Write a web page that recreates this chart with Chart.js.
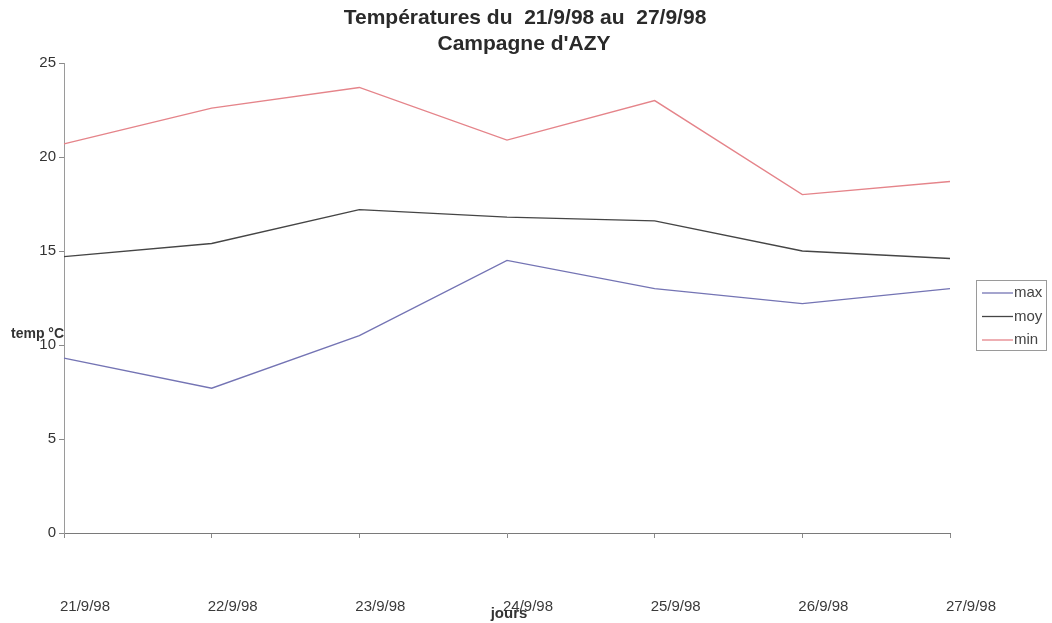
<!DOCTYPE html>
<html><head><meta charset="utf-8">
<script src="https://cdn.jsdelivr.net/npm/chart.js@4/dist/chart.umd.min.js"></script>
<style>html,body{margin:0;padding:0;background:#fff}#wrap{width:1052px;height:623px}</style>
</head><body><div id="wrap"><canvas id="c" width="1052" height="623"></canvas></div>
<script>
const categories = ["21/9/98","22/9/98","23/9/98","24/9/98","25/9/98","26/9/98","27/9/98"];
const seriesNames = ["max","moy","min"];
const maxValues = [9.3, 7.7, 10.5, 14.5, 13.0, 12.2, 13.0];
const moyValues = [14.7, 15.4, 17.2, 16.8, 16.6, 15.0, 14.6];
const minValues = [20.7, 22.6, 23.7, 20.9, 23.0, 18.0, 18.7];
const yTicks = [0, 5, 10, 15, 20, 25];
const titleLines = ["Températures du  21/9/98 au  27/9/98", "Campagne d'AZY"];
const xTitle = "jours";
const yTitle = "temp °C";

const colors = ["#7474b4", "#454545", "#e5848a"];
const FONT = "'Liberation Sans', Arial, sans-serif";

const overlay = {
  id: 'overlay',
  afterDraw(chart) {
    const ctx = chart.ctx;
    ctx.save();
    // title
    ctx.fillStyle = '#2a2a2a';
    ctx.font = "bold 21px " + FONT;
    ctx.textAlign = 'center';
    ctx.textBaseline = 'middle';
    ctx.fillText(titleLines[0], 525, 18);
    ctx.fillText(titleLines[1], 524, 44);
    // axis titles
    ctx.font = "bold 15px " + FONT;
    ctx.fillStyle = '#333';
    ctx.fillText(xTitle, 509, 614);
    ctx.font = "bold 14px " + FONT;
    ctx.textAlign = 'left';
    ctx.fillText(yTitle, 11, 334);
    // legend
    const lx = 976, ly = 280, lw = 70, lh = 70;
    ctx.strokeStyle = '#9a9a9a';
    ctx.lineWidth = 1;
    ctx.strokeRect(lx + 0.5, ly + 0.5, lw, lh);
    ctx.font = "15px " + FONT;
    chart.data.datasets.forEach((ds, i) => {
      const y = ly + 13 + i * 23.5;
      ctx.strokeStyle = ds.borderColor;
      ctx.lineWidth = 1.3;
      ctx.beginPath(); ctx.moveTo(lx + 6, y); ctx.lineTo(lx + 37, y); ctx.stroke();
      ctx.fillStyle = '#444';
      ctx.textAlign = 'left';
      ctx.fillText(ds.label, lx + 38, y);
    });
    ctx.restore();
  }
};

new Chart(document.getElementById('c'), {
  type: 'line',
  data: {
    labels: categories,
    datasets: [maxValues, moyValues, minValues].map((d, i) => ({
      label: seriesNames[i], data: d, borderColor: colors[i], backgroundColor: colors[i],
      borderWidth: 1.4, pointRadius: 0, tension: 0, fill: false
    }))
  },
  options: {
    responsive: false, animation: false, devicePixelRatio: 1,
    layout: { padding: { left: 0, right: 102, top: 63, bottom: 0 } },
    plugins: { legend: { display: false }, title: { display: false }, tooltip: { enabled: false } },
    scales: {
      x: {
        type: 'category', offset: false,
        grid: { drawOnChartArea: false, drawTicks: true, tickLength: 5, color: '#8a8a8a' },
        border: { display: true, color: '#7a7a7a', width: 1 },
        ticks: { color: '#3a3a3a', font: { family: FONT, size: 15 }, padding: 60, labelOffset: 21, maxRotation: 0, autoSkip: false },
        afterFit(s) { s.height = 90; s.paddingLeft = 0; s.paddingRight = 0; }
      },
      y: {
        min: 0, max: 25,
        afterBuildTicks(s) { s.ticks = yTicks.map(v => ({ value: v })); },
        grid: { drawOnChartArea: false, drawTicks: true, tickLength: 5, color: '#8a8a8a' },
        border: { display: true, color: '#9a9a9a', width: 1 },
        ticks: { color: '#333', font: { family: FONT, size: 15 }, padding: 3 },
        afterFit(s) { s.width = 64; s.paddingTop = 0; s.paddingBottom = 0; }
      }
    }
  },
  plugins: [overlay]
});
</script>
</body></html>
